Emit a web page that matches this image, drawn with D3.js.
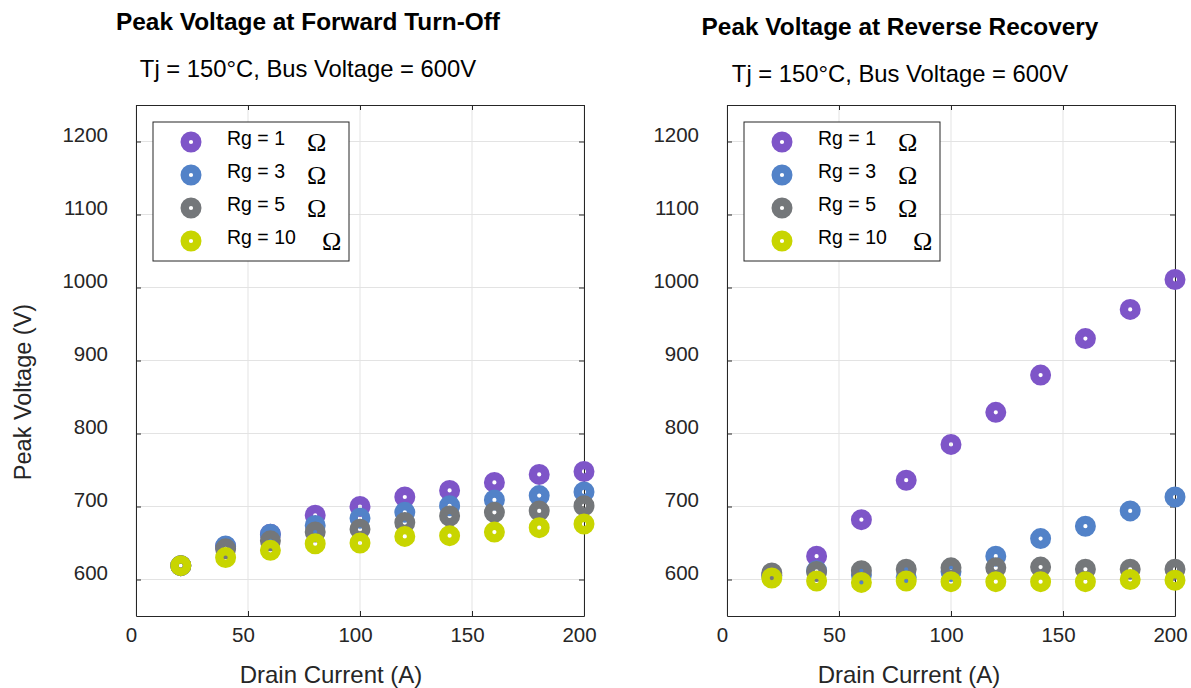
<!DOCTYPE html>
<html>
<head>
<meta charset="utf-8">
<script src="https://cdn.jsdelivr.net/npm/d3@7"></script>
<style>
  body { margin: 0; background: #fff; }
</style>
</head>
<body>
<div id="chart"></div>
<script>
// drain current values (A)
const current = [20, 40, 60, 80, 100, 120, 140, 160, 180, 200];
const seriesNames = ["Rg = 1", "Rg = 3", "Rg = 5", "Rg = 10"];
const seriesColors = ["#7e55c8", "#5282c8", "#74777a", "#c8d500"];

// peak voltage at forward turn-off (V)
const turnOff1 = [619, 645, 662, 688, 700, 713, 722, 733, 744, 748];
const turnOff3 = [619, 646, 662, 674, 684, 692, 701, 709, 715, 720];
const turnOff5 = [619, 642, 653, 665, 669, 678, 687, 692, 694, 701];
const turnOff10 = [619, 630, 640, 649, 650, 659, 660, 665, 671, 676];

// peak voltage at reverse recovery (V)
const reverse1 = [606, 632, 682, 736, 785, 829, 880, 930, 970, 1011];
const reverse3 = [605, 612, 606, 603, 611, 632, 656, 673, 694, 713];
const reverse5 = [609, 611, 612, 614, 616, 616, 617, 614, 614, 614];
const reverse10 = [602, 598, 596, 598, 597, 597, 597, 597, 600, 599];

const xTicks = [0, 50, 100, 150, 200];
const yTicks = [600, 700, 800, 900, 1000, 1100, 1200];

const panels = [
    {left: 136, title: "Peak Voltage at Forward Turn-Off", titleX: 308, titleY: 30, subY: 77,
     series: [turnOff1, turnOff3, turnOff5, turnOff10], yLabel: true, xLabelX: 331},
    {left: 727, title: "Peak Voltage at Reverse Recovery", titleX: 900, titleY: 35, subY: 82,
     series: [reverse1, reverse3, reverse5, reverse10], yLabel: false, xLabelX: 909}
];

const W = 1191, H = 688;
const plotW = 448, plotTop = 105, plotBottom = 616;
const sans = "Liberation Sans, Arial, sans-serif";

const svg = d3.select("#chart").append("svg")
    .attr("width", W)
    .attr("height", H)
    .style("font-family", sans);

panels.forEach(p => {
    let g = svg.append("g");

    let x = d3.scaleLinear().domain([0, 200]).range([p.left, p.left + plotW]);
    let y = d3.scaleLinear().domain([550, 1250]).range([plotBottom, plotTop]);

    // grid
    g.append("g").selectAll("line").data(xTicks).join("line")
        .attr("x1", d => x(d)).attr("x2", d => x(d))
        .attr("y1", plotTop).attr("y2", plotBottom)
        .attr("stroke", "#e3e3e3").attr("stroke-width", 1);
    g.append("g").selectAll("line").data(yTicks).join("line")
        .attr("x1", p.left).attr("x2", p.left + plotW)
        .attr("y1", d => y(d)).attr("y2", d => y(d))
        .attr("stroke", "#e3e3e3").attr("stroke-width", 1);

    // axes with inward ticks
    const tickStyle = sel => {
        sel.select(".domain").attr("stroke", "#262626");
        sel.selectAll(".tick line").attr("stroke", "#262626");
        sel.selectAll("text").attr("font-size", 20.5).attr("fill", "#262626")
            .attr("font-family", sans);
    };
    g.append("g").attr("transform", `translate(0,${plotBottom})`)
        .call(d3.axisBottom(x).tickValues(xTicks).tickSizeInner(-5).tickSizeOuter(0).tickPadding(11))
        .call(tickStyle)
        .call(a => a.selectAll(".tick text").attr("dx", -5));
    g.append("g").attr("transform", `translate(0,${plotTop})`)
        .call(d3.axisTop(x).tickValues(xTicks).tickSizeInner(-5).tickSizeOuter(0).tickFormat(""))
        .call(tickStyle);
    g.append("g").attr("transform", `translate(${p.left},0)`)
        .call(d3.axisLeft(y).tickValues(yTicks).tickFormat(d3.format("d"))
            .tickSizeInner(-5).tickSizeOuter(0).tickPadding(28))
        .call(tickStyle)
        .call(a => a.selectAll(".tick text").attr("dy", 0));
    g.append("g").attr("transform", `translate(${p.left + plotW},0)`)
        .call(d3.axisRight(y).tickValues(yTicks).tickSizeInner(-5).tickSizeOuter(0).tickFormat(""))
        .call(tickStyle);

    // markers: thick rings so a small hole shows through
    p.series.forEach((vals, i) => {
        g.append("g").selectAll("circle").data(vals).join("circle")
            .attr("cx", (d, j) => x(current[j]))
            .attr("cy", d => y(d))
            .attr("r", 6.3)
            .attr("fill", "none")
            .attr("stroke", seriesColors[i])
            .attr("stroke-width", 8.4);
    });

    // titles
    g.append("text").text(p.title)
        .attr("x", p.titleX).attr("y", p.titleY)
        .attr("text-anchor", "middle")
        .attr("font-size", 24.4).attr("font-weight", "bold").attr("fill", "#000");
    g.append("text").text("Tj = 150°C, Bus Voltage = 600V")
        .attr("x", p.titleX).attr("y", p.subY)
        .attr("text-anchor", "middle")
        .attr("font-size", 23.8).attr("fill", "#000");

    // axis labels
    g.append("text").text("Drain Current (A)")
        .attr("x", p.xLabelX).attr("y", 683)
        .attr("text-anchor", "middle")
        .attr("font-size", 24).attr("fill", "#262626");
    if (p.yLabel) {
        g.append("text").text("Peak Voltage (V)")
            .attr("transform", `translate(31,392) rotate(-90)`)
            .attr("text-anchor", "middle")
            .attr("font-size", 23.5).attr("fill", "#262626");
    }

    // legend
    let lg = g.append("g").attr("transform", `translate(${p.left + 17},122)`);
    lg.append("rect").attr("width", 196).attr("height", 139)
        .attr("fill", "#fff").attr("stroke", "#262626").attr("stroke-width", 1);
    seriesNames.forEach((name, i) => {
        let ry = 20 + i * 33;
        lg.append("circle").attr("cx", 38).attr("cy", ry)
            .attr("r", 6.3).attr("fill", "none")
            .attr("stroke", seriesColors[i]).attr("stroke-width", 8.4);
        lg.append("text").text(name)
            .attr("x", 74).attr("y", ry + 3)
            .attr("font-size", 19.5).attr("fill", "#000");
        lg.append("text").text("Ω")
            .attr("x", name.length > 6 ? 169 : 154).attr("y", ry + 9)
            .style("font-family", "Liberation Serif, Times New Roman, serif")
            .attr("font-size", 26).attr("fill", "#000");
    });
});
</script>
</body>
</html>
